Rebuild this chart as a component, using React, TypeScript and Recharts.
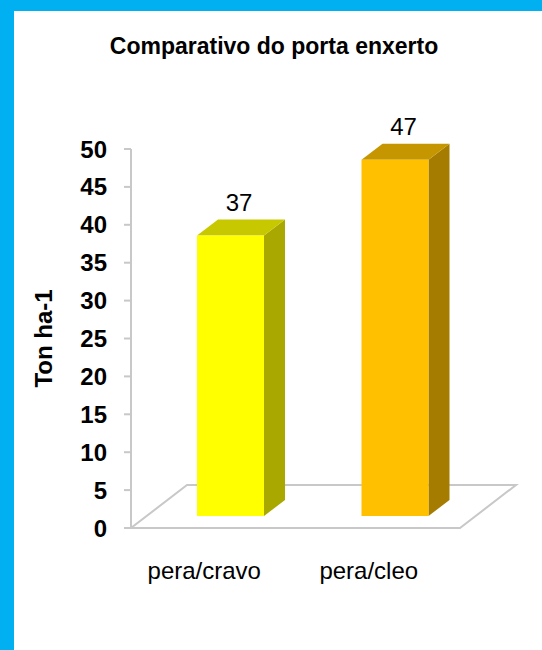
import { Bar, BarChart, LabelList, ReferenceLine, XAxis, YAxis } from "recharts";

const categories = ["pera/cravo", "pera/cleo"];
const yields = [37, 47];
const yTicks = [0, 5, 10, 15, 20, 25, 30, 35, 40, 45, 50];

const FRONT = ["#FFFF00", "#FFC000"];
const SIDE = ["#A8A800", "#A67C00"];
const TOP = ["#C8C800", "#C69600"];
const GRID = "#C8C8C8";
const FONT = '"Liberation Sans", Arial, sans-serif';

// pseudo-3D offsets (px)
const SHIFT_X = 17;
const SHIFT_Y = -12;
const DEPTH_X = 21;
const DEPTH_Y = 16;
const FLOOR_DX = 56;
const FLOOR_DY = 43;

const data = categories.map((name, i) => ({ name, value: yields[i] }));

function Bar3D(props: any) {
  const { x, y, width, height, index } = props;
  const fx = x + SHIFT_X;
  const fy = y + SHIFT_Y;
  const right = fx + width;
  const bottom = fy + height;
  return (
    <g>
      <polygon
        points={`${right},${fy} ${right + DEPTH_X},${fy - DEPTH_Y} ${right + DEPTH_X},${bottom - DEPTH_Y} ${right},${bottom}`}
        fill={SIDE[index]}
      />
      <polygon
        points={`${fx},${fy} ${fx + DEPTH_X},${fy - DEPTH_Y} ${right + DEPTH_X},${fy - DEPTH_Y} ${right},${fy}`}
        fill={TOP[index]}
      />
      <rect x={fx} y={fy} width={width} height={height} fill={FRONT[index]} />
    </g>
  );
}

function Floor(props: any) {
  const { x1, x2, y1 } = props;
  return (
    <polygon
      points={`${x1},${y1} ${x2},${y1} ${x2 + FLOOR_DX},${y1 - FLOOR_DY} ${x1 + FLOOR_DX},${y1 - FLOOR_DY}`}
      fill="#fff"
      stroke={GRID}
      strokeWidth={2}
    />
  );
}

function ValueLabel(props: any) {
  const { x, y, width, value } = props;
  return (
    <text
      x={x + SHIFT_X + (width + DEPTH_X) / 2 - 2}
      y={y + SHIFT_Y - DEPTH_Y - 17}
      textAnchor="middle"
      dominantBaseline="central"
      fontSize={24}
      fontFamily={FONT}
      fill="#000"
    >
      {value}
    </text>
  );
}

function AxisTitle(props: any) {
  const { viewBox } = props;
  const cx = 43;
  const cy = viewBox.y + viewBox.height / 2;
  return (
    <text
      x={cx}
      y={cy}
      transform={`rotate(-90, ${cx}, ${cy})`}
      textAnchor="middle"
      dominantBaseline="central"
      fontSize={24}
      fontWeight="bold"
      fontFamily={FONT}
      fill="#000"
    >
      Ton ha-1
    </text>
  );
}

export default function App() {
  return (
    <div
      style={{
        position: "fixed",
        top: 0,
        left: 0,
        width: 542,
        height: 650,
        boxSizing: "border-box",
        background: "#fff",
        borderTop: "11px solid #00B0F0",
        borderLeft: "14px solid #00B0F0",
      }}
    >
      <div
        style={{
          position: "absolute",
          top: 35 - 11,
          left: -14,
          width: 548,
          textAlign: "center",
          fontFamily: FONT,
          fontWeight: "bold",
          fontSize: 23,
          lineHeight: "23px",
          color: "#000",
        }}
      >
        Comparativo do porta enxerto
      </div>
      <div style={{ position: "absolute", top: -11, left: -14 }}>
        <BarChart
          width={542}
          height={650}
          data={data}
          margin={{ top: 149, right: 82, bottom: 62, left: 0 }}
          barSize={67}
        >
          <ReferenceLine y={0} shape={Floor} ifOverflow="visible" zIndex={-50} />
          <XAxis
            dataKey="name"
            height={60}
            axisLine={false}
            tickLine={false}
            tickSize={0}
            tickMargin={34}
            dx={-9}
            tick={{ fill: "#000", fontSize: 24, fontFamily: FONT }}
          />
          <YAxis
            width={131}
            domain={[0, 50]}
            ticks={yTicks}
            interval={0}
            axisLine={{ stroke: GRID, strokeWidth: 2 }}
            tickLine={{ stroke: GRID, strokeWidth: 2 }}
            tickSize={7}
            tickMargin={17}
            tick={{ fill: "#000", fontSize: 24, fontWeight: "bold", fontFamily: FONT }}
            label={{ content: AxisTitle }}
          />
          <Bar dataKey="value" shape={Bar3D} isAnimationActive={false}>
            <LabelList dataKey="value" content={ValueLabel} />
          </Bar>
        </BarChart>
      </div>
    </div>
  );
}
